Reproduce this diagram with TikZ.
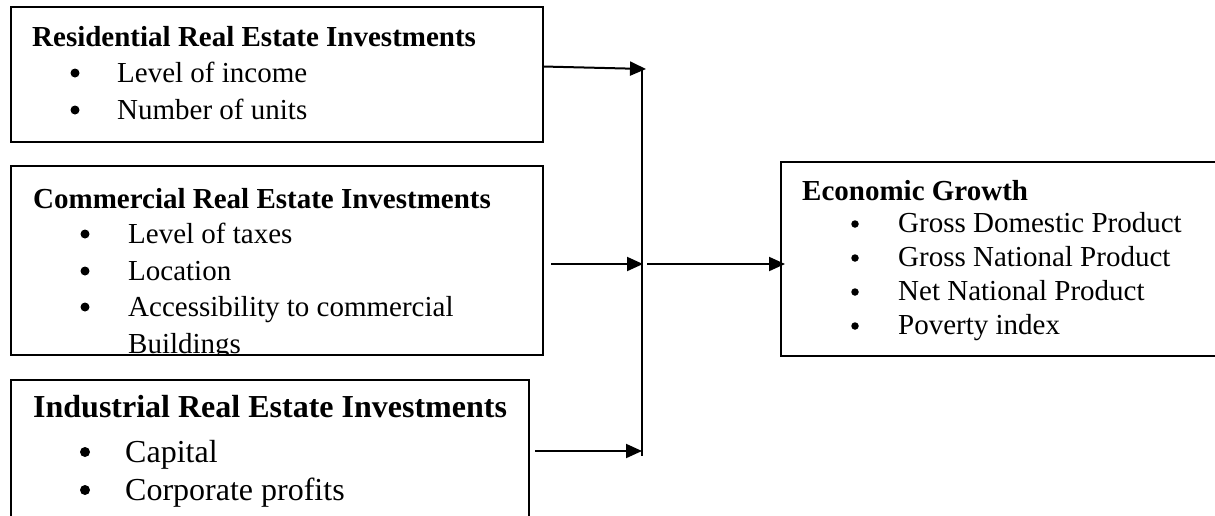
\documentclass[tikz,border=0pt]{standalone}
\usepackage{fontspec}
\setmainfont{Liberation Serif}
\usetikzlibrary{arrows.meta}
\begin{document}
\begin{tikzpicture}[x=1pt,y=-1pt,
  box/.style={draw, line width=1.5pt, anchor=north west, inner sep=0pt, outer sep=0pt},
  ttl/.style={anchor=base west, inner sep=0pt, font=\bfseries\fontsize{29}{35}\selectfont},
  itm/.style={anchor=base west, inner sep=0pt, font=\fontsize{29}{35}\selectfont},
  bul/.style={circle, fill=black, inner sep=0pt, minimum size=9pt},
  smallbul/.style={bul, minimum size=7.5pt},
  bigbul/.style={bul, minimum size=10pt},
  bigttl/.style={ttl, font=\bfseries\fontsize{32}{38}\selectfont},
  bigitm/.style={itm, font=\fontsize{32}{38}\selectfont},
  conn/.style={line width=2pt},
  arr/.style={conn, -{Triangle[length=16pt,width=14pt]}}]
\useasboundingbox (0,0) rectangle (1215,515);
\clip (0,0) rectangle (1215,515);

% Residential
\node[box, minimum width=532pt, minimum height=135pt] (res) at (11,7) {};
\node[ttl] (resT) at (32,46) {Residential Real Estate Investments};
\node[bul] (resB1) at (75,73) {};
\node[itm] (resI1) at (117,82) {Level of income};
\node[bul] (resB2) at (75,110) {};
\node[itm] (resI2) at (117,119) {Number of units};

% Commercial
\begin{scope}
\clip (11,166) rectangle (543,355);
\node[ttl] (comT) at (33,208) {Commercial Real Estate Investments};
\node[bul] (comB1) at (85,234) {};
\node[itm] (comI1) at (128,243) {Level of taxes};
\node[bul] (comB2) at (85,271) {};
\node[itm] (comI2) at (128,280) {Location};
\node[bul] (comB3) at (85,307) {};
\node[itm] (comI3) at (128,316) {Accessibility to commercial};
\node[itm] (comI4) at (128,353) {Buildings};
\end{scope}
\node[box, minimum width=532pt, minimum height=189pt] (com) at (11,166) {};

% Industrial
\node[box, minimum width=518pt, minimum height=180pt] (ind) at (11,380) {};
\node[bigttl] (indT) at (33,417) {Industrial Real Estate Investments};
\node[bigbul] (indB1) at (85,452) {};
\node[bigitm] (indI1) at (125,462) {Capital};
\node[bigbul] (indB2) at (85,490) {};
\node[bigitm] (indI2) at (125,500) {Corporate profits};

% Economic growth
\node[box, minimum width=480pt, minimum height=194pt] (eco) at (781,162) {};
\node[ttl] (ecoT) at (802,200) {Economic Growth};
\node[smallbul] (ecoB1) at (855,224) {};
\node[itm] (ecoI1) at (898,232) {Gross Domestic Product};
\node[smallbul] (ecoB2) at (855,258) {};
\node[itm] (ecoI2) at (898,266) {Gross National Product};
\node[smallbul] (ecoB3) at (855,292) {};
\node[itm] (ecoI3) at (898,300) {Net National Product};
\node[smallbul] (ecoB4) at (855,326) {};
\node[itm] (ecoI4) at (898,334) {Poverty index};

% connectors
\coordinate (a1s) at (543,66.5);
\coordinate (a1e) at (646,69);
\coordinate (vTop) at (642,69);
\coordinate (vBot) at (642,456);
\coordinate (a2s) at (551,264);
\coordinate (a2e) at (643,264);
\coordinate (a3s) at (647,264);
\coordinate (a4s) at (535,451);
\coordinate (a4e) at (642,451);

\draw[arr] (a1s) -- (a1e);
\draw[conn] (vTop) -- (vBot);
\draw[arr] (a2s) -- (a2e);
\draw[arr] (a3s) -- ([xshift=4pt]eco.west |- a3s);
\draw[arr] (a4s) -- (a4e);
\end{tikzpicture}
\end{document}
